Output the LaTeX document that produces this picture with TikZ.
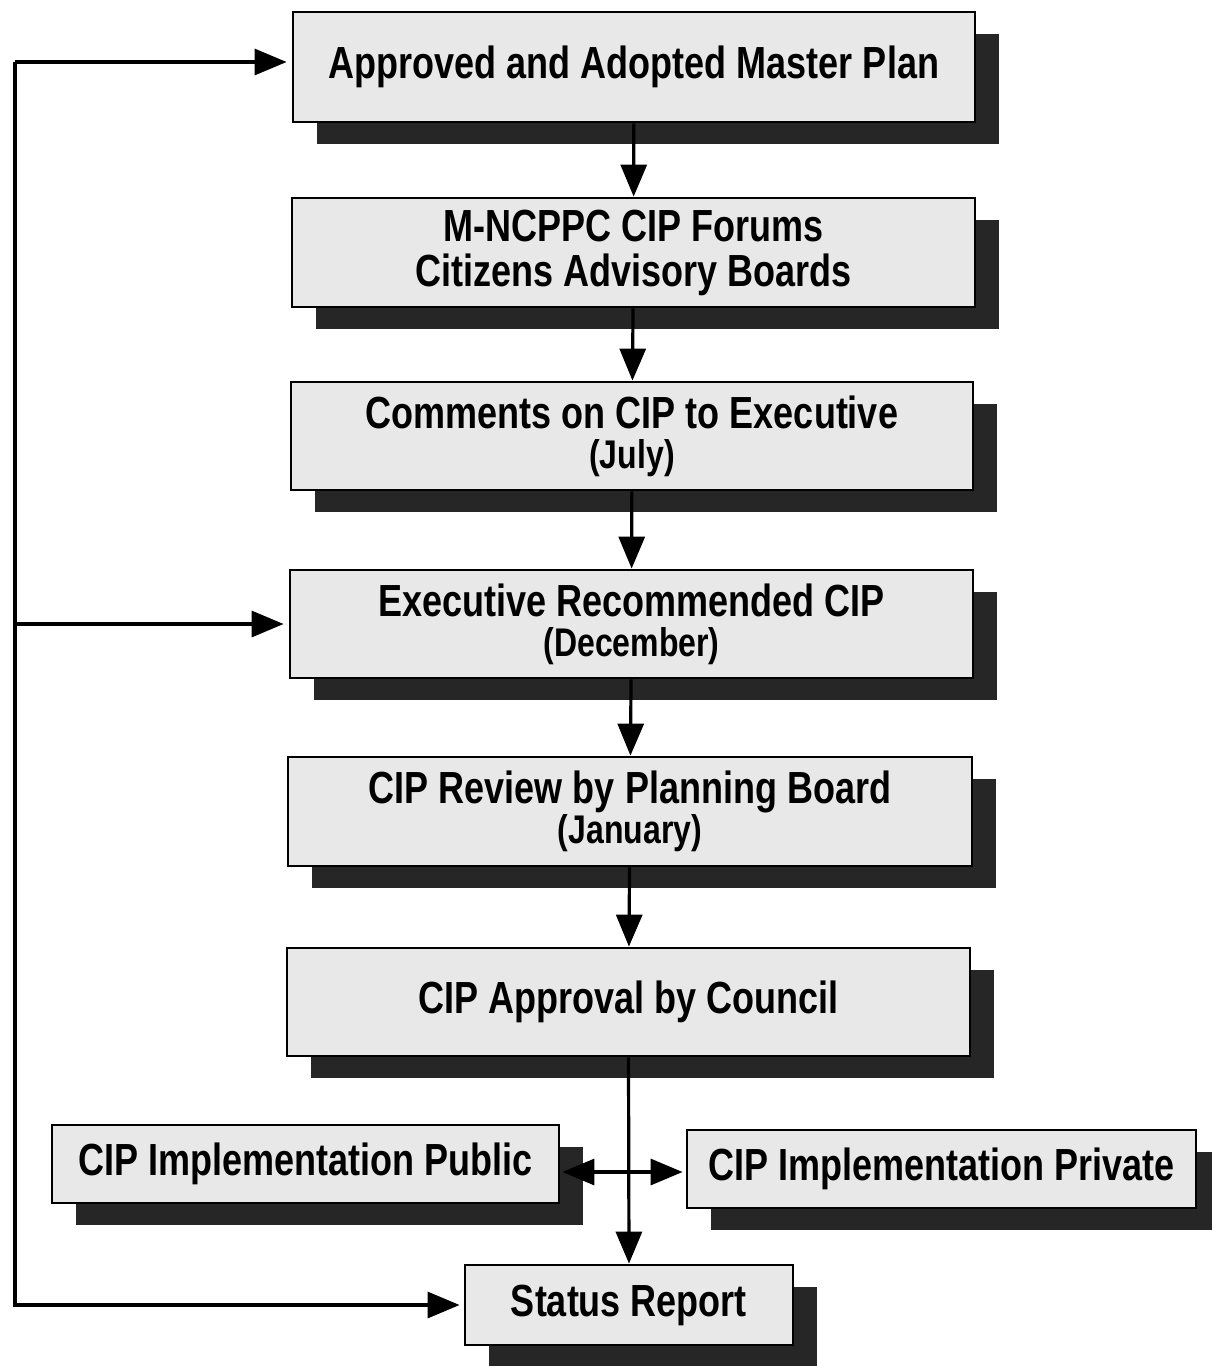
\documentclass[tikz,border=0pt]{standalone}
\usepackage{fontspec}
\setmainfont{Liberation Sans}[FakeStretch=0.8]
\usetikzlibrary{arrows.meta,shadows}
\begin{document}
\begin{tikzpicture}[x=1pt,y=-1pt,
  box/.style={draw=black, line width=2.8pt, fill=gray!18, inner sep=0pt, align=center,
    font=\fontsize{45}{40}\selectfont\bfseries,
    general shadow={fill=black!85, shadow xshift=24pt, shadow yshift=-22pt}},
  conn/.style={line width=3.2pt, -{Triangle[length=32pt,width=26pt]}}]
\useasboundingbox (0,0) rectangle (1211,1366);
\newcommand{\subline}[1]{{\fontsize{40}{40}\selectfont #1}}
\node[box, minimum width=682pt, minimum height=110pt] (b1) at (634,67) {Approved and Adopted Master Plan};
\node[box, minimum width=683pt, minimum height=109pt] (b2) at (633.5,252.5) {M-NCPPC CIP Forums\\[5pt]Citizens Advisory Boards};
\node[box, minimum width=682pt, minimum height=108pt] (b3) at (632,436) {Comments on CIP to Executive\\\subline{(July)}};
\node[box, minimum width=683pt, minimum height=108pt] (b4) at (631.5,624) {Executive Recommended CIP\\\subline{(December)}};
\node[box, minimum width=684pt, minimum height=109pt] (b5) at (630,811.5) {CIP Review by Planning Board\\\subline{(January)}};
\node[box, minimum width=683pt, minimum height=108pt] (b6) at (628.5,1002) {CIP Approval by Council};
\node[box, minimum width=507pt, minimum height=78pt] (b7) at (305.5,1164) {CIP Implementation Public};
\node[box, minimum width=509pt, minimum height=78pt] (b8) at (941.5,1169) {CIP Implementation Private};
\node[box, minimum width=328pt, minimum height=80pt] (b9) at (629,1305) {Status Report};
% main chain
\draw[conn] (b1) -- (b2);
\draw[conn] (b2) -- (b3);
\draw[conn] (b3) -- (b4);
\draw[conn] (b4) -- (b5);
\draw[conn] (b5) -- (b6);
\draw[conn] (b6.south) -- (b9.north);
% split to implementation boxes
\coordinate (J) at (628.5,1172);
\draw[conn, shorten >=2pt] (J) -- (J -| b7.east);
\draw[conn, shorten >=3pt] (J) -- (J -| b8.west);
% feedback line
\coordinate (L) at (15,62);
\coordinate (Lb) at (15,1305);
\draw[conn, shorten >=5pt] (L) -- (L -| b1.west);
\draw[conn, shorten >=5pt] (L |- b4.west) -- (b4.west);
\draw[conn, shorten >=4pt, line join=miter] (L) -- (Lb) -- (b9.west);
\end{tikzpicture}
\end{document}
